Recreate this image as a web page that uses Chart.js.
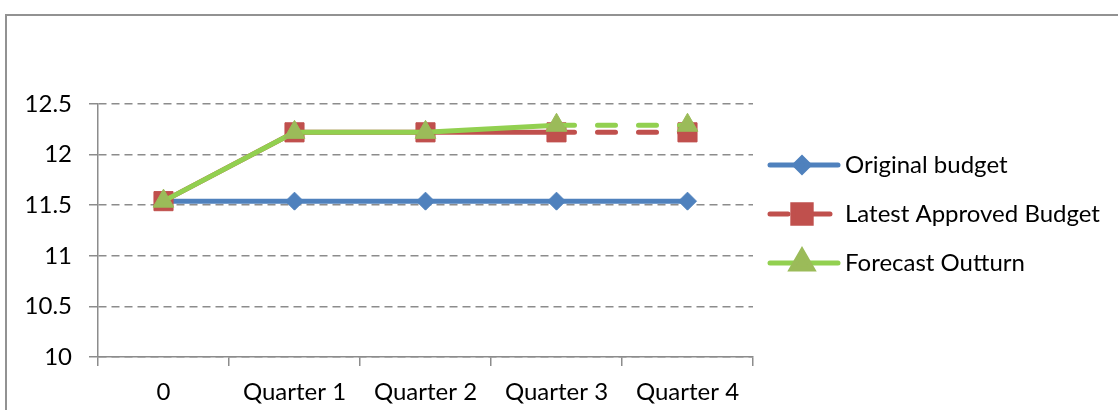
<!DOCTYPE html>
<html>
<head>
<meta charset="utf-8">
<script src="https://cdn.jsdelivr.net/npm/chart.js@4.4.1/dist/chart.umd.min.js"></script>
<style>
  html, body { margin: 0; padding: 0; background: #fff; overflow: hidden; }
  #wrap { position: relative; width: 1118px; height: 410px; }
  #frame { position: absolute; left: 5px; top: 14px; width: 1200px; height: 500px;
           border-top: 2px solid #929292; border-left: 2px solid #929292; }
  canvas { position: absolute; left: 0; top: 0; }
</style>
</head>
<body>
<div id="wrap">
  <div id="frame"></div>
  <canvas id="myChart" width="1118" height="410"></canvas>
</div>
<script>
// data
const categories = ['0', 'Quarter 1', 'Quarter 2', 'Quarter 3', 'Quarter 4'];
const originalBudget = [11.54, 11.54, 11.54, 11.54, 11.54];
const latestApproved = [11.54, 12.22, 12.22, 12.22, 12.22];
const forecastOutturn = [11.54, 12.22, 12.22, 12.29, 12.29];
const yTicks = [10, 10.5, 11, 11.5, 12, 12.5];
const seriesNames = ['Original budget', 'Latest Approved Budget', 'Forecast Outturn'];

const FONT = "Lato";
const FSIZE = 24;
const gridGray = '#8c8c8c';

// dashed from Quarter 3 onwards
const dashAfterQ3 = ctx => ctx.p0DataIndex >= 3 ? [18, 23] : undefined;

const sideLegend = {
    id: 'sideLegend',
    afterDraw(chart) {
        const ctx = chart.ctx;
        chart.data.datasets.forEach(function(ds, i) {
            const y = 165 + i * 49;
            ctx.save();
            ctx.strokeStyle = ds.borderColor;
            ctx.lineWidth = 5;
            ctx.lineCap = 'round';
            ctx.setLineDash(ds.legendDash || []);
            ctx.beginPath();
            ctx.moveTo(770, y);
            ctx.lineTo(ds.legendDash ? 830 : 838, y);
            ctx.stroke();
            ctx.setLineDash([]);
            ctx.fillStyle = ds.pointBackgroundColor;
            ctx.strokeStyle = ds.pointBackgroundColor;
            Chart.helpers.drawPoint(ctx, {
                pointStyle: ds.pointStyle,
                radius: ds.legendRadius,
                rotation: 0,
                borderWidth: 1
            }, 802, y);
            ctx.fillStyle = '#000';
            ctx.font = FSIZE + 'px ' + FONT;
            ctx.textBaseline = 'middle';
            ctx.textAlign = 'left';
            ctx.fillText(ds.label, 845, y);
            ctx.restore();
        });
    }
};

var myChart = new Chart(document.getElementById('myChart').getContext('2d'), {
    type: 'line',
    data: {
        labels: categories,
        datasets: [
            {
                label: seriesNames[0],
                data: originalBudget,
                borderColor: '#4F81BD',
                borderWidth: 5,
                pointStyle: 'rectRot',
                pointRadius: 9,
                legendRadius: 7,
                pointBackgroundColor: '#4F81BD',
                pointBorderColor: '#4F81BD',
                pointBorderWidth: 1,
                order: 2
            },
            {
                label: seriesNames[1],
                data: latestApproved,
                borderColor: '#C0504D',
                borderWidth: 5,
                borderCapStyle: 'round',
                segment: { borderDash: dashAfterQ3 },
                legendDash: [18, 24],
                pointStyle: 'rect',
                pointRadius: 13.5,
                legendRadius: 13,
                pointBackgroundColor: '#C0504D',
                pointBorderColor: '#C0504D',
                pointBorderWidth: 1,
                order: 1
            },
            {
                label: seriesNames[2],
                data: forecastOutturn,
                borderColor: '#92D050',
                borderWidth: 5,
                borderCapStyle: 'round',
                segment: { borderDash: dashAfterQ3 },
                pointStyle: 'triangle',
                pointRadius: 12,
                legendRadius: 12,
                pointBackgroundColor: '#9BBB59',
                pointBorderColor: '#9BBB59',
                pointBorderWidth: 1,
                order: 0
            }
        ]
    },
    options: {
        responsive: false,
        animation: false,
        devicePixelRatio: 1,
        layout: { padding: { left: 0, top: 104, right: 365, bottom: 0 } },
        plugins: {
            legend: { display: false },
            tooltip: { enabled: false }
        },
        scales: {
            x: {
                offset: true,
                afterFit: function(scale) { scale.height = 53; },
                grid: {
                    offset: true,
                    drawOnChartArea: false,
                    tickLength: 9,
                    color: gridGray,
                    lineWidth: 1.5
                },
                border: { color: gridGray, width: 1.5 },
                ticks: {
                    color: '#000',
                    padding: 12,
                    font: { family: FONT, size: FSIZE },
                    maxRotation: 0
                }
            },
            y: {
                min: 10,
                max: 12.5,
                afterFit: function(scale) { scale.width = 98; },
                afterBuildTicks: function(scale) {
                    scale.ticks = yTicks.map(v => ({ value: v }));
                },
                grid: {
                    color: gridGray,
                    lineWidth: 1.5,
                    tickLength: 9,
                    tickBorderDash: []
                },
                border: { color: gridGray, width: 1.5, dash: [8, 5] },
                ticks: {
                    color: '#000',
                    padding: 17,
                    font: { family: FONT, size: FSIZE },
                    callback: v => String(v)
                }
            }
        }
    },
    plugins: [sideLegend]
});
</script>
</body>
</html>
